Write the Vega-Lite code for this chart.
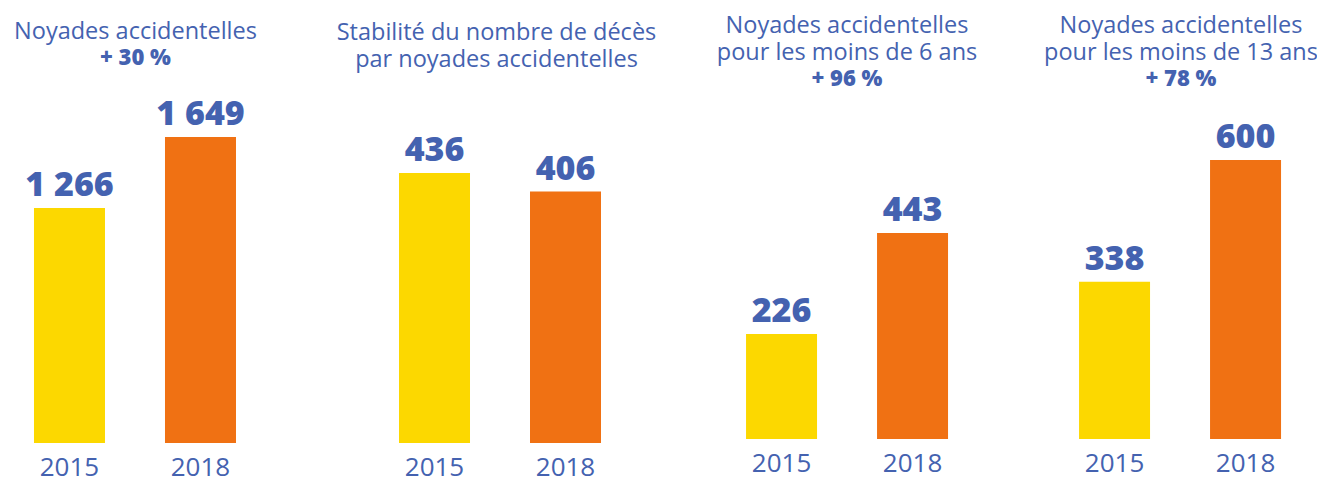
{
  "$schema": "https://vega.github.io/schema/vega-lite/v6.json",
  "padding": {"top": 13, "left": 0, "right": 0, "bottom": 0},
  "spacing": 0,
  "bounds": "flush",
  "datasets": {
    "d": [
      {"panel": 1, "year": "2015", "value": 1266},
      {"panel": 1, "year": "2018", "value": 1649},
      {"panel": 2, "year": "2015", "value": 436},
      {"panel": 2, "year": "2018", "value": 406},
      {"panel": 3, "year": "2015", "value": 226},
      {"panel": 3, "year": "2018", "value": 443},
      {"panel": 4, "year": "2015", "value": 338},
      {"panel": 4, "year": "2018", "value": 600}
    ]
  },
  "hconcat": [
    {
      "width": 318, "height": 341,
      "title": {"text": "Noyades accidentelles", "subtitle": "+ 30 %", "dx": -23.5, "offset": 28.5},
      "data": {"name": "d"},
      "transform": [{"filter": "datum.panel == 1"}],
      "encoding": {
        "x": {"field": "year", "type": "nominal", "scale": {"paddingInner": 0.458, "paddingOuter": 0.4427, "align": 0.293}},
        "y": {"field": "value", "type": "quantitative", "scale": {"domain": [0, 1837.6]}, "axis": null}
      },
      "layer": [
        {"mark": {"type": "bar"}, "encoding": {"color": {"field": "year", "type": "nominal", "scale": {"domain": ["2015", "2018"], "range": ["#FCD800", "#F07113"]}, "legend": null}}},
        {"mark": {"type": "text", "dy": -12, "baseline": "alphabetic", "font": "Open Sans", "fontSize": 34, "fontWeight": 800, "color": "#4462B0"}, "encoding": {"text": {"field": "value", "type": "quantitative", "format": ","}}}
      ]
    },
    {
      "width": 356, "height": 341,
      "title": {"text": ["Stabilité du nombre de décès", "par noyades accidentelles"], "dx": 0.5, "offset": 31},
      "data": {"name": "d"},
      "transform": [{"filter": "datum.panel == 2"}],
      "encoding": {
        "x": {"field": "year", "type": "nominal", "scale": {"paddingInner": 0.458, "paddingOuter": 0.5878, "align": 0.526}},
        "y": {"field": "value", "type": "quantitative", "scale": {"domain": [0, 550.6]}, "axis": null}
      },
      "layer": [
        {"mark": {"type": "bar"}, "encoding": {"color": {"field": "year", "type": "nominal", "scale": {"domain": ["2015", "2018"], "range": ["#FCD800", "#F07113"]}, "legend": null}}},
        {"mark": {"type": "text", "dy": -12, "baseline": "alphabetic", "font": "Open Sans", "fontSize": 34, "fontWeight": 800, "color": "#4462B0"}, "encoding": {"text": {"field": "value", "type": "quantitative", "format": ","}}}
      ]
    },
    {
      "width": 340, "height": 337,
      "title": {"text": ["Noyades accidentelles", "pour les moins de 6 ans"], "subtitle": "+ 96 %", "dx": 3, "offset": 12},
      "data": {"name": "d"},
      "transform": [{"filter": "datum.panel == 3"}],
      "encoding": {
        "x": {"field": "year", "type": "nominal", "scale": {"paddingInner": 0.458, "paddingOuter": 0.5267, "align": 0.522}},
        "y": {"field": "value", "type": "quantitative", "scale": {"domain": [0, 724.6]}, "axis": null}
      },
      "layer": [
        {"mark": {"type": "bar"}, "encoding": {"color": {"field": "year", "type": "nominal", "scale": {"domain": ["2015", "2018"], "range": ["#FCD800", "#F07113"]}, "legend": null}}},
        {"mark": {"type": "text", "dy": -12, "baseline": "alphabetic", "font": "Open Sans", "fontSize": 34, "fontWeight": 800, "color": "#4462B0"}, "encoding": {"text": {"field": "value", "type": "quantitative", "format": ","}}}
      ]
    },
    {
      "width": 303, "height": 337,
      "title": {"text": ["Noyades accidentelles", "pour les moins de 13 ans"], "subtitle": "+ 78 %", "dx": 15.5, "offset": 12},
      "data": {"name": "d"},
      "transform": [{"filter": "datum.panel == 4"}],
      "encoding": {
        "x": {"field": "year", "type": "nominal", "scale": {"paddingInner": 0.458, "paddingOuter": 0.3855, "align": 0.644}},
        "y": {"field": "value", "type": "quantitative", "scale": {"domain": [0, 724.6]}, "axis": null}
      },
      "layer": [
        {"mark": {"type": "bar"}, "encoding": {"color": {"field": "year", "type": "nominal", "scale": {"domain": ["2015", "2018"], "range": ["#FCD800", "#F07113"]}, "legend": null}}},
        {"mark": {"type": "text", "dy": -12, "baseline": "alphabetic", "font": "Open Sans", "fontSize": 34, "fontWeight": 800, "color": "#4462B0"}, "encoding": {"text": {"field": "value", "type": "quantitative", "format": ","}}}
      ]
    }
  ],
  "config": {
    "locale": {"number": {"decimal": ",", "thousands": " ", "grouping": [3], "currency": ["", " €"]}},
    "view": {"stroke": null},
    "axisX": {"title": null, "domain": false, "ticks": false, "grid": false, "labelAngle": 0, "labelFont": "Open Sans", "labelFontSize": 26, "labelColor": "#4462B0", "labelPadding": 11},
    "title": {"font": "Open Sans", "fontSize": 23.5, "fontWeight": 500, "color": "#4462B0", "lineHeight": 27, "subtitleFont": "Open Sans", "subtitleFontSize": 22, "subtitleFontWeight": 800, "subtitleColor": "#4462B0", "subtitleLineHeight": 27, "subtitlePadding": 5, "anchor": "middle", "frame": "group"}
  }
}
